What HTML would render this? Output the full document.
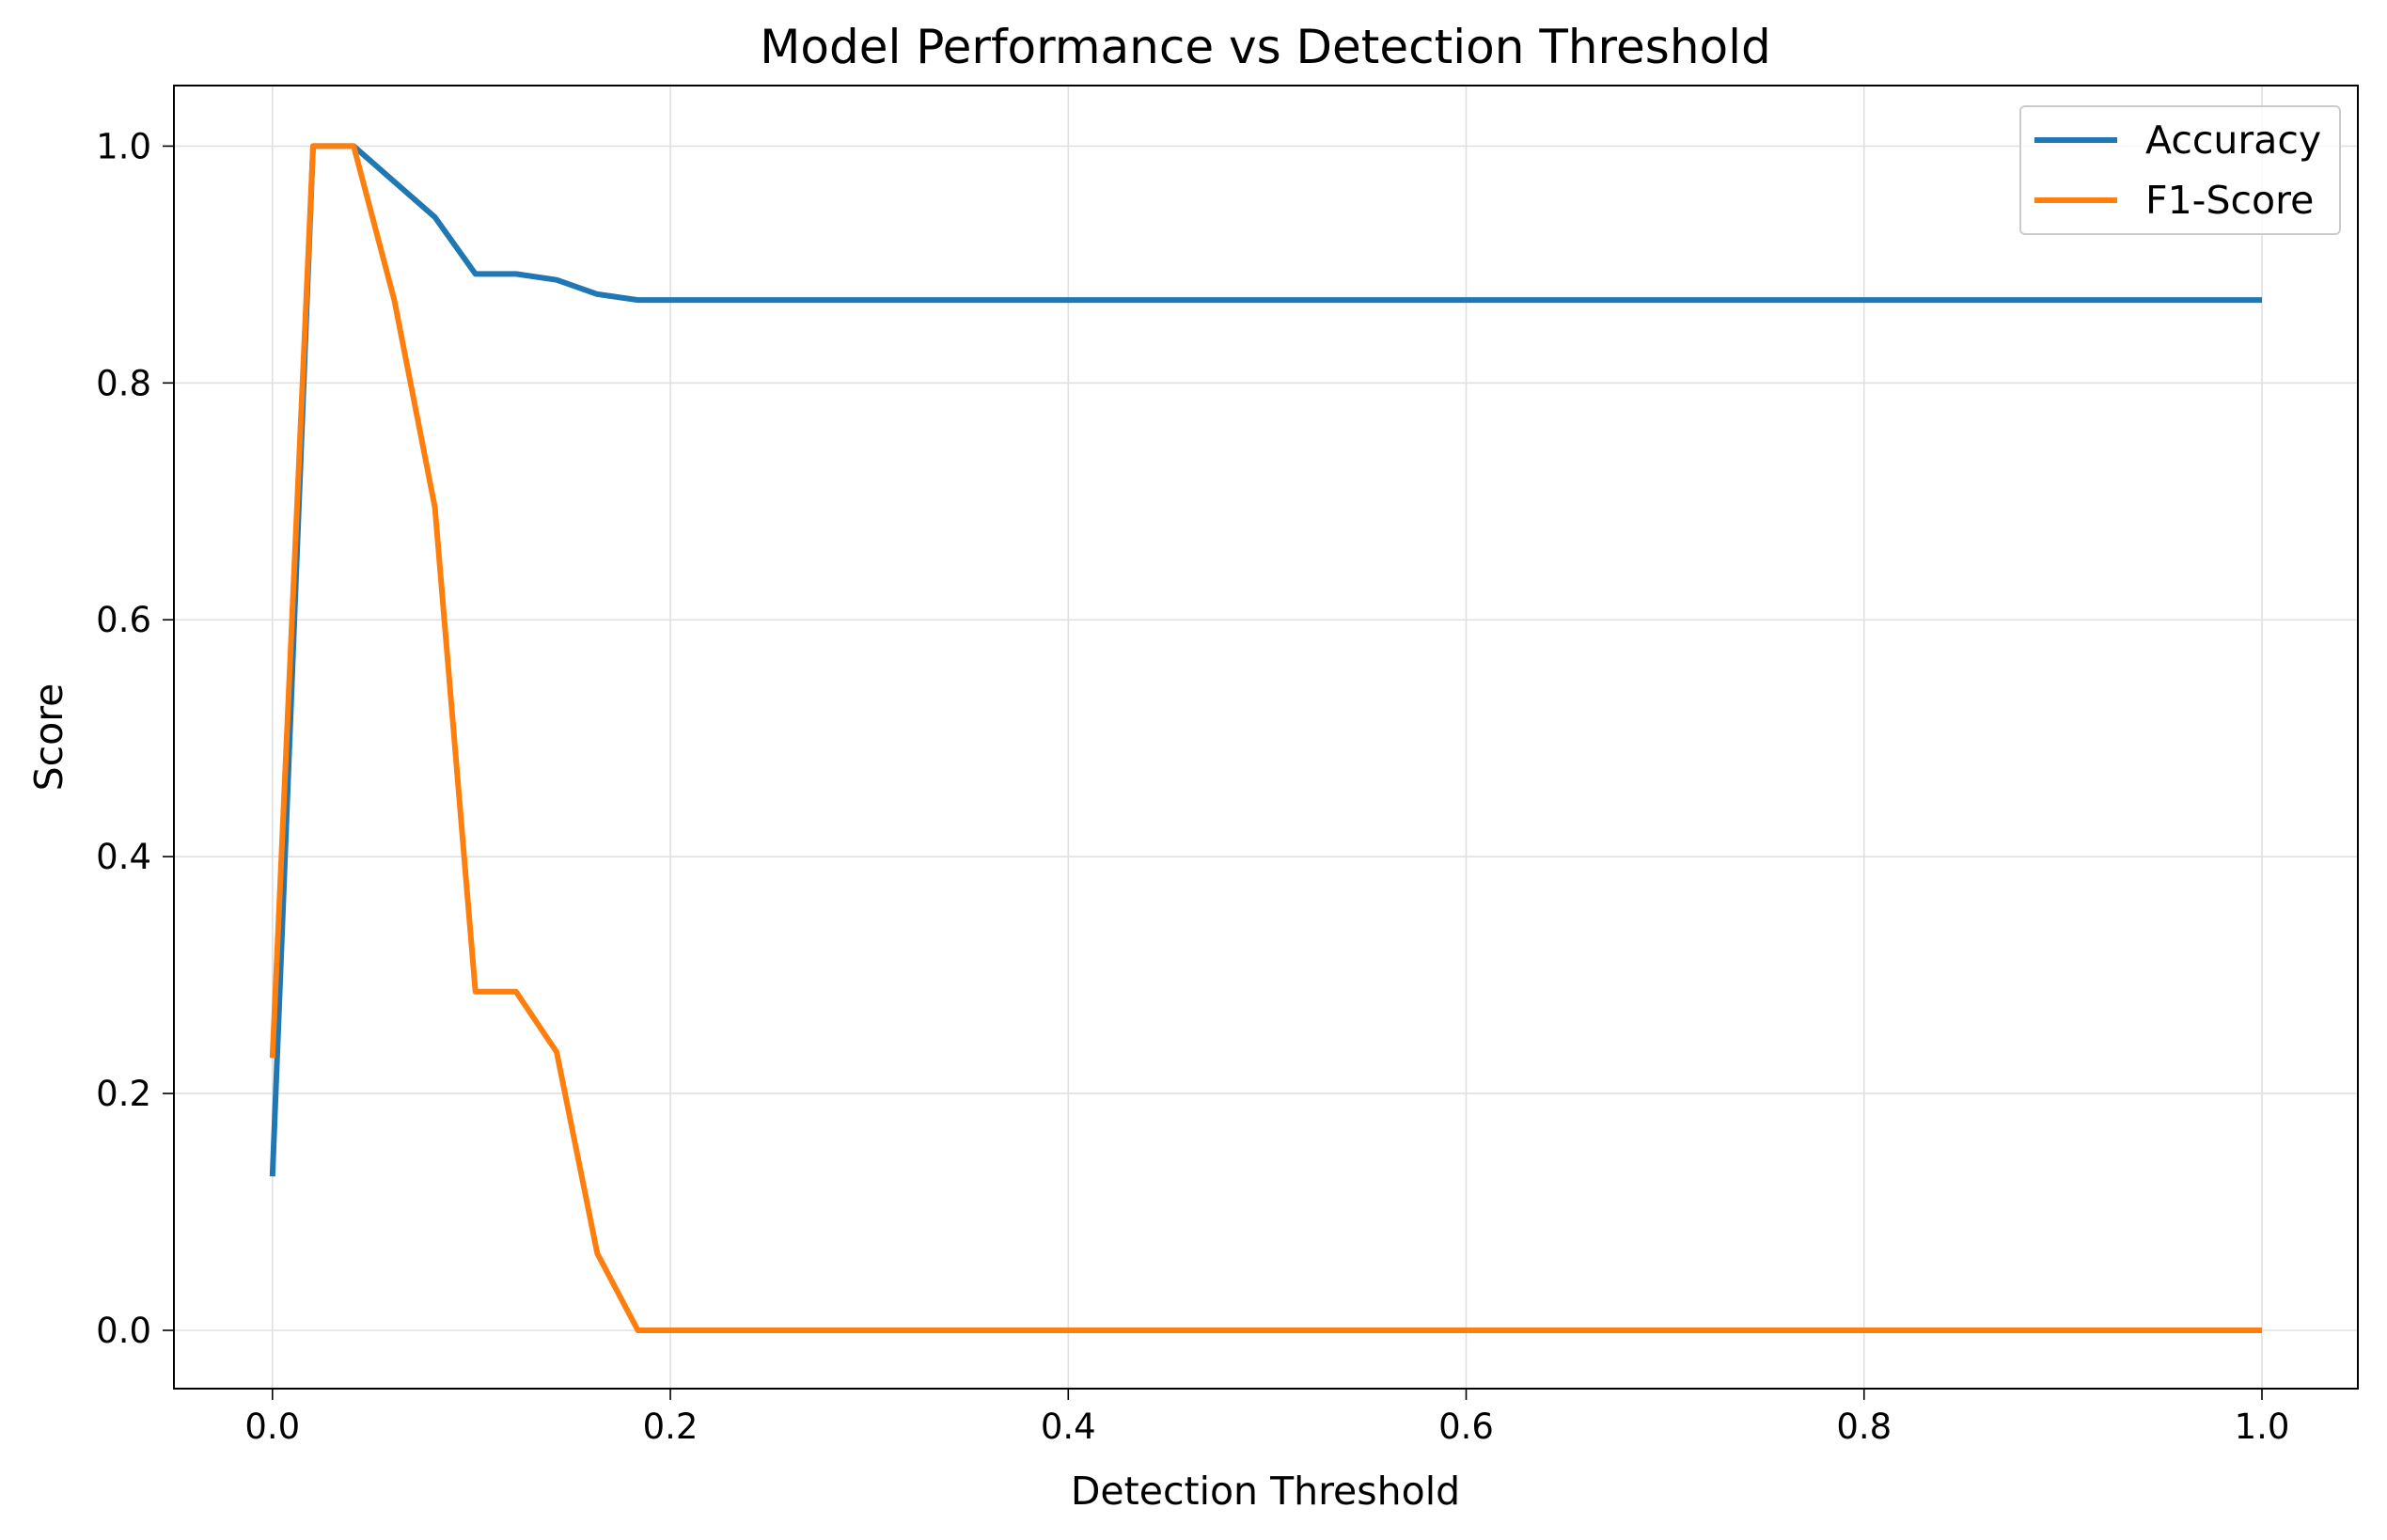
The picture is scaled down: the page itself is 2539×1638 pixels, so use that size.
<!DOCTYPE html>
<html><head><meta charset="utf-8"><style>
html,body{margin:0;padding:0;background:#fff;}
svg{display:block;font-family:"DejaVu Sans","Liberation Sans",sans-serif;}
</style></head><body>
<svg id="chart" width="2539" height="1638" viewBox="0 0 2539 1638" xmlns="http://www.w3.org/2000/svg">
<rect width="2539" height="1638" fill="#fff"/>
<g id="grid"></g>
<g id="series"></g>
<rect x="185" y="91" width="2323" height="1386" fill="none" stroke="#000" stroke-width="2"/>
<g id="ticks"></g>
<text x="1346" y="67" font-size="50" text-anchor="middle">Model Performance vs Detection Threshold</text>
<text x="1346" y="1600" font-size="41" text-anchor="middle">Detection Threshold</text>
<text transform="translate(66,784) rotate(-90)" font-size="41" text-anchor="middle">Score</text>
<g>
<rect x="2149" y="113" width="340" height="136" rx="5" fill="#fff" fill-opacity="0.8" stroke="#ccc" stroke-width="2"/>
<line x1="2164" y1="149" x2="2252" y2="149" stroke="#1f77b4" stroke-width="6"/>
<text x="2282" y="163" font-size="41">Accuracy</text>
<line x1="2164" y1="213" x2="2252" y2="213" stroke="#ff7f0e" stroke-width="6"/>
<text x="2282" y="227" font-size="41">F1-Score</text>
</g>
</svg>
<script>
const thresholdCount = 50;
const accuracy = [0.13,1.0,1.0,0.97,0.94,0.892,0.892,0.887,0.875,0.87];
const f1Score = [0.23,1.0,1.0,0.87,0.695,0.286,0.286,0.235,0.065,0.0];
const xTicks = [0.0,0.2,0.4,0.6,0.8,1.0];
const yTicks = [0.0,0.2,0.4,0.6,0.8,1.0];
const NS = "http://www.w3.org/2000/svg";
const L=185,R=2508,T=91,B=1477;
function xs(v){return 289.8+(2406-289.8)*v;}
function ys(v){return 1415-(1415-155.4)*v;}
function mk(tag,attrs,parent){const e=document.createElementNS(NS,tag);for(const k in attrs)e.setAttribute(k,attrs[k]);parent.appendChild(e);return e;}
const grid=document.getElementById('grid'),ticks=document.getElementById('ticks'),series=document.getElementById('series');
xTicks.forEach(t=>{
 const g=mk('line',{x1:xs(t),x2:xs(t),y1:T,y2:B,stroke:'#e0e0e0','stroke-width':1.6},grid);
 
 
 const tk=mk('line',{x1:xs(t),x2:xs(t),y1:B,y2:B+12,stroke:'#000','stroke-width':1.6},ticks);
 
 
 const tx=mk('text',{x:xs(t),y:B+53,'font-size':37,'text-anchor':'middle'},ticks);
 tx.textContent=t.toFixed(1);
 
 
});
yTicks.forEach(t=>{
 const g=mk('line',{x1:L,x2:R,y1:ys(t),y2:ys(t),stroke:'#e0e0e0','stroke-width':1.6},grid);
 
 
 const tk=mk('line',{x1:L-12,x2:L,y1:ys(t),y2:ys(t),stroke:'#000','stroke-width':1.6},ticks);
 
 
 const tx=mk('text',{x:L-24,y:ys(t)+13,'font-size':37,'text-anchor':'end'},ticks);
 tx.textContent=t.toFixed(1);
 
 
});
function full(arr){const out=[];for(let i=0;i<thresholdCount;i++)out.push(i<arr.length?arr[i]:arr[arr.length-1]);return out;}
function draw(arr,color,name){
 const vals=full(arr);
 const pts=vals.map((v,i)=>xs(i/(thresholdCount-1)).toFixed(1)+','+ys(v).toFixed(1)).join(' ');
 const p=mk('polyline',{points:pts,fill:'none',stroke:color,'stroke-width':6,'stroke-linejoin':'round'},series);
 
 
}
draw(accuracy,'#1f77b4','accuracy-line');
draw(f1Score,'#ff7f0e','f1-score-line');
</script>
</body></html>
